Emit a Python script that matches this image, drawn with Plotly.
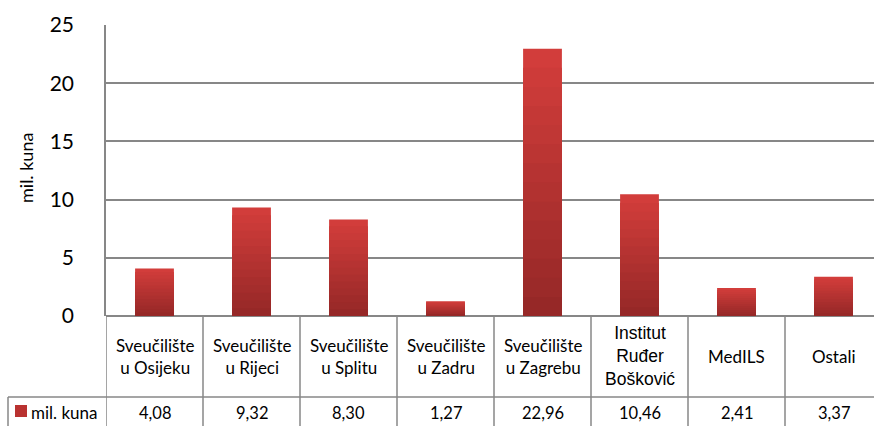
import plotly.graph_objects as go

categories = ["Sveučilište<br>u Osijeku", "Sveučilište<br>u Rijeci", "Sveučilište<br>u Splitu",
              "Sveučilište<br>u Zadru", "Sveučilište<br>u Zagrebu", "Institut<br>Ruđer<br>Bošković",
              "MedILS", "Ostali"]
values = [4.08, 9.32, 8.30, 1.27, 22.96, 10.46, 2.41, 3.37]
value_labels = ["4,08", "9,32", "8,30", "1,27", "22,96", "10,46", "2,41", "3,37"]
series_name = "mil. kuna"
y_ticks = [0, 5, 10, 15, 20, 25]

W, H = 874, 426
L, T, B = 106, 25, 110
plot_h = H - T - B  # 291
plot_w = W - L

def py(p):  # pixel y -> paper y
    return (H - B - p) / plot_h

def px(p):  # pixel x -> paper x
    return (p - L) / plot_w

GRID = "#878787"
FONT = "Lato"
TOP = (210, 61, 59)
BOT = (150, 40, 39)
xs = list(range(len(categories)))

def mix(t):
    return "rgb(%d,%d,%d)" % tuple(round(a + (b - a) * t) for a, b in zip(TOP, BOT))

fig = go.Figure()
# main data trace (top colour); shorter overlays shade towards the base for a vertical gradient
fig.add_trace(go.Bar(x=xs, y=values, name=series_name, marker=dict(color=mix(0), line=dict(width=0)),
                     width=0.4, hovertemplate="%{y}<extra></extra>"))
N = 14
for k in range(1, N):
    f = 1 - k / N
    fig.add_trace(go.Bar(x=xs, y=[v * f for v in values], marker=dict(color=mix(k / (N - 1)), line=dict(width=0)),
                         width=0.4, hoverinfo="skip", showlegend=False))

shapes = []
for i in range(len(categories) + 1):
    shapes.append(dict(type="line", xref="x", yref="paper", x0=i - 0.5, x1=i - 0.5,
                       y0=0, y1=py(440), line=dict(color=GRID, width=1.5)))
shapes.append(dict(type="line", xref="paper", yref="paper", x0=px(8), x1=1.05,
                   y0=py(397), y1=py(397), line=dict(color=GRID, width=1.5)))
shapes.append(dict(type="line", xref="paper", yref="paper", x0=px(8), x1=px(8),
                   y0=py(397), y1=py(440), line=dict(color=GRID, width=1.5)))
shapes.append(dict(type="rect", xref="paper", yref="paper", x0=px(15), x1=px(27),
                   y0=py(417), y1=py(405), fillcolor="rgb(185,50,48)", line=dict(width=0)))

annotations = []
for i, (c, v) in enumerate(zip(categories, value_labels)):
    inst = c.startswith("Institut")
    annotations.append(dict(x=i, y=py(356), xref="x", yref="paper", text=c, showarrow=False,
                            font=dict(family="Liberation Sans" if inst else FONT, size=17.5 if inst else 17,
                                      color="black"),
                            align="center", xanchor="center", yanchor="middle"))
    annotations.append(dict(x=i, y=py(413), xref="x", yref="paper", text=v, showarrow=False,
                            font=dict(family=FONT, size=16.5, color="black"),
                            xanchor="center", yanchor="middle"))
annotations.append(dict(x=px(29), y=py(412), xref="paper", yref="paper", text=series_name,
                        showarrow=False, font=dict(family=FONT, size=17, color="black"),
                        xanchor="left", yanchor="middle"))
annotations.append(dict(x=px(26), y=py(168), xref="paper", yref="paper", text=series_name,
                        showarrow=False, textangle=-90, font=dict(family=FONT, size=18, color="black"),
                        xanchor="center", yanchor="middle"))

fig.update_layout(
    width=W, height=H,
    margin=dict(l=L, r=0, t=T, b=B, pad=0),
    paper_bgcolor="white", plot_bgcolor="white",
    showlegend=False,
    barmode="overlay",
    shapes=shapes, annotations=annotations,
    xaxis=dict(range=[-0.5, -0.5 + plot_w / 97.0], showticklabels=False, showgrid=False,
               zeroline=False, showline=False, fixedrange=True),
    yaxis=dict(range=[0, 25], tickvals=y_ticks, showgrid=True, gridcolor=GRID, gridwidth=1.5,
               zeroline=True, zerolinecolor=GRID, zerolinewidth=1.5,
               showline=True, linecolor=GRID, linewidth=1.5,
               tickfont=dict(family=FONT, size=21, color="black"),
               ticklabelstandoff=26, ticks="", fixedrange=True),
)

fig.write_html("out.html", config={"displayModeBar": False},
               post_script="document.body.style.margin='0';document.body.style.overflow='hidden';")
